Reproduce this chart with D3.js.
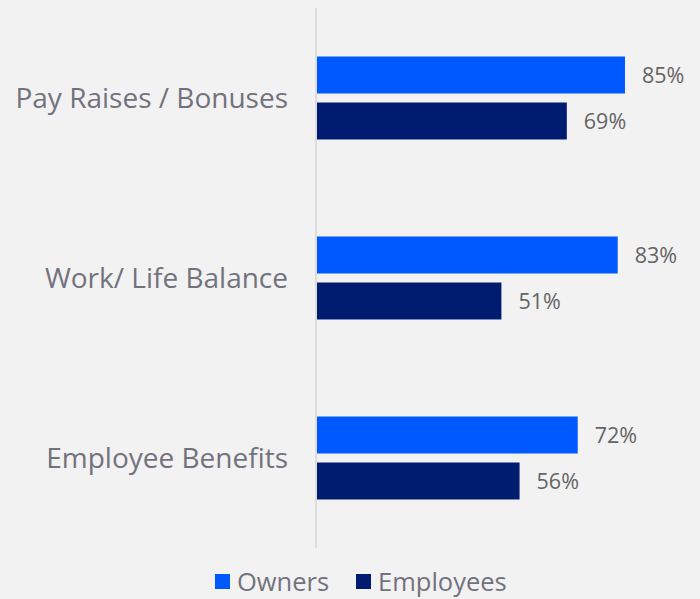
<!DOCTYPE html>
<html>
<head>
<meta charset="utf-8">
<script src="https://cdn.jsdelivr.net/npm/d3@7"></script>
<style>
  html, body { margin: 0; padding: 0; background: #f2f2f2; }
  svg { display: block; }
</style>
</head>
<body>
<svg id="chart" width="700" height="599"></svg>
<script>
const categories = ["Pay Raises / Bonuses", "Work/ Life Balance", "Employee Benefits"];
const seriesNames = ["Owners", "Employees"];
const owners = [85, 83, 72];
const employees = [69, 51, 56];
const seriesColors = ["#0059ff", "#001c71"];

const data = categories.map((c, i) => ({ category: c, values: [owners[i], employees[i]] }));

const svg = d3.select("#chart");
const W = 700, H = 599;
svg.append("rect").attr("width", W).attr("height", H).attr("fill", "#f2f2f2");

const x = d3.scaleLinear().domain([0, 100]).range([316, 679.5]);
const y0 = d3.scaleBand().domain(categories).range([8, 548]).paddingInner(0.539).paddingOuter(0.2695);
const y1 = d3.scaleBand().domain(seriesNames).range([0, y0.bandwidth()]).paddingInner(0.196).paddingOuter(0);

const font = "'Open Sans', Lato, sans-serif";

svg.append("line")
  .attr("x1", x(0)).attr("x2", x(0))
  .attr("y1", 8).attr("y2", 548)
  .attr("stroke", "#d6d6d6").attr("stroke-width", 1.5);

const groups = svg.selectAll("g.grp").data(data).join("g")
  .attr("class", "grp")
  .attr("transform", d => `translate(0,${y0(d.category)})`);

groups.selectAll("rect").data(d => d.values.map((v, j) => ({ v, s: seriesNames[j], j })))
  .join("rect")
  .attr("x", x(0) + 1)
  .attr("y", d => y1(d.s))
  .attr("width", d => x(d.v) - x(0) - 1)
  .attr("height", y1.bandwidth())
  .attr("fill", d => seriesColors[d.j]);

groups.selectAll("text.val").data(d => d.values.map((v, j) => ({ v, s: seriesNames[j], j })))
  .join("text")
  .attr("class", "val")
  .attr("x", d => x(d.v) + 17)
  .attr("y", d => y1(d.s) + y1.bandwidth() / 2)
  .attr("dy", "0.36em")
  .attr("font-family", font)
  .attr("font-size", 21.5)
  .attr("fill", "#646464")
  .text(d => d.v + "%");

svg.selectAll("text.cat").data(categories).join("text")
  .attr("class", "cat")
  .attr("x", 288)
  .attr("y", d => y0(d) + y0.bandwidth() / 2)
  .attr("dy", "0.36em")
  .attr("text-anchor", "end")
  .attr("font-family", font)
  .attr("font-size", 28)
  .attr("fill", "#72727e")
  .text(d => d);

const legendX = [215, 356];
const leg = svg.selectAll("g.leg").data(seriesNames).join("g")
  .attr("class", "leg")
  .attr("transform", (d, i) => `translate(${legendX[i]},574)`);
leg.append("rect").attr("width", 15).attr("height", 15).attr("fill", (d, i) => seriesColors[i]);
leg.append("text")
  .attr("x", 22).attr("y", 7.5).attr("dy", "0.36em")
  .attr("font-family", font).attr("font-size", 25.5)
  .attr("fill", "#72727e")
  .text(d => d);
</script>
</body>
</html>
